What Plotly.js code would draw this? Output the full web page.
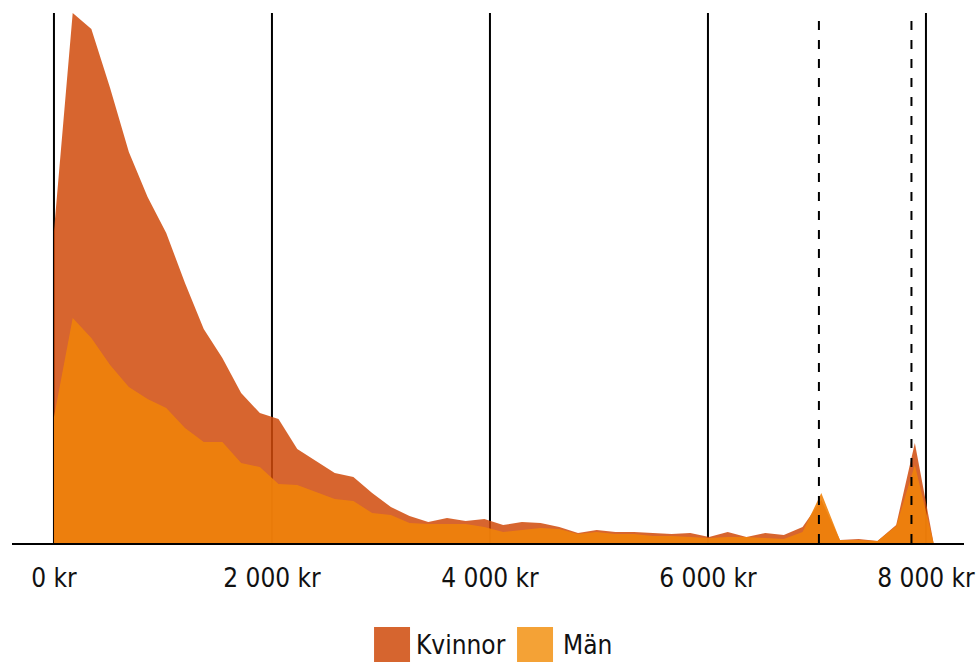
<!DOCTYPE html>
<html>
<head>
<meta charset="utf-8">
<script src="https://cdn.plot.ly/plotly-3.0.1.min.js"></script>
<style>html,body{margin:0;padding:0;background:#fff;}#chart{width:980px;height:662px;}</style>
</head>
<body>
<div id="chart"></div>
<script>
// Income bins (kr)
const incomeKr = [0,172,343,515,687,859,1030,1202,1374,1545,1717,1889,2060,2232,2404,2576,2747,2919,3091,3262,3434,3606,3777,3949,4121,4293,4464,4636,4808,4979,5151,5323,5494,5666,5838,6010,6181,6353,6525,6696,6868,7040,7211,7383,7555,7727,7898,8070];
// Share of each group (%)
const kvinnor = [3.12,5.30,5.14,4.55,3.91,3.46,3.10,2.60,2.14,1.85,1.50,1.30,1.24,0.94,0.82,0.70,0.66,0.50,0.36,0.27,0.21,0.25,0.22,0.24,0.18,0.21,0.20,0.16,0.10,0.13,0.11,0.11,0.10,0.09,0.10,0.06,0.11,0.06,0.10,0.08,0.16,0.43,0.03,0.04,0.02,0.18,1.00,0.00];
const man = [1.26,2.25,2.05,1.78,1.56,1.44,1.35,1.15,1.01,1.01,0.80,0.76,0.59,0.58,0.51,0.44,0.42,0.30,0.28,0.20,0.19,0.19,0.19,0.16,0.11,0.13,0.15,0.14,0.09,0.11,0.09,0.09,0.07,0.07,0.06,0.05,0.06,0.06,0.05,0.04,0.11,0.50,0.03,0.03,0.02,0.17,0.78,0.00];
const tickVals = [0,2000,4000,6000,8000];
const tickText = ['0 kr','2 000 kr','4 000 kr','6 000 kr','8 000 kr'];
const dashedRefs = [7018,7867];
const seriesNames = ['Kvinnor','Män'];

const FONT = '"DejaVu Sans Condensed", "DejaVu Sans", sans-serif';

const traces = [
  {x: incomeKr, y: kvinnor, name: seriesNames[0], type: 'scatter', mode: 'none',
   fill: 'tozeroy', fillcolor: 'rgba(208,74,10,0.85)', hoverinfo: 'x+y'},
  {x: incomeKr, y: man, name: seriesNames[1], type: 'scatter', mode: 'none',
   fill: 'tozeroy', fillcolor: 'rgba(240,130,10,0.9)', hoverinfo: 'x+y'}
];

const shapes = [];
tickVals.forEach(v => shapes.push({type:'line', xref:'x', yref:'paper', x0:v, x1:v, y0:0, y1:1,
  line:{color:'#000', width:2}, layer:'below'}));
dashedRefs.forEach(v => shapes.push({type:'line', xref:'x', yref:'paper', x0:v, x1:v, y0:0, y1:1,
  line:{color:'#000', width:2, dash:'9px,10px'}, layer:'above'}));

// legend swatches (manual)
const legendColors = ['#D6652F','#F4A236'];
const legendX = [[0.3803,0.4181],[0.5305,0.5683]];
legendColors.forEach((c,i) => shapes.push({type:'rect', xref:'paper', yref:'paper',
  x0:legendX[i][0], x1:legendX[i][1], y0:-0.2245, y1:-0.1585, fillcolor:c, line:{width:0}}));

const annotations = [
  {xref:'paper', yref:'paper', x:0.4224, y:-0.1925, xanchor:'left', yanchor:'middle', showarrow:false,
   text: seriesNames[0], font:{family:FONT, size:26, color:'#111'}},
  {xref:'paper', yref:'paper', x:0.5767, y:-0.1925, xanchor:'left', yanchor:'middle', showarrow:false,
   text: seriesNames[1], font:{family:FONT, size:26, color:'#111'}}
];

const layout = {
  width: 980, height: 662,
  margin: {l:12, r:16, t:13, b:119},
  paper_bgcolor: '#fff', plot_bgcolor: '#fff',
  showlegend: false,
  font: {family: FONT, size: 26, color: '#111'},
  xaxis: {range:[-385, 8349], tickvals: tickVals, ticktext: tickText, showgrid:false, zeroline:false,
    showline:true, linecolor:'#000', linewidth:2, ticks:'', ticklabelstandoff: 11,
    tickfont:{family:FONT, size:26, color:'#111'}, fixedrange:true},
  yaxis: {range:[0, 5.30], showgrid:false, zeroline:false, showticklabels:false, showline:false, fixedrange:true},
  shapes: shapes,
  annotations: annotations
};

Plotly.newPlot('chart', traces, layout, {displayModeBar:false, staticPlot:true});
</script>
</body>
</html>
